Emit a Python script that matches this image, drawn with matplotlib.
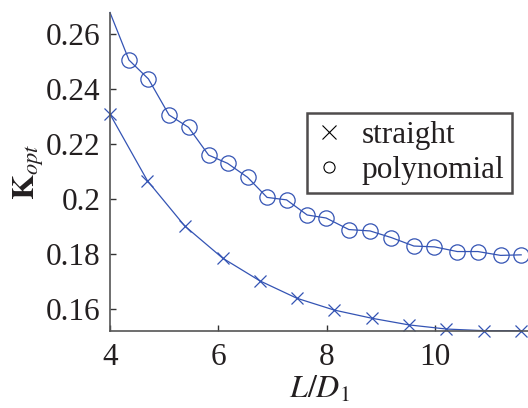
import matplotlib
matplotlib.use("Agg")
import matplotlib.pyplot as plt
from matplotlib.lines import Line2D

plt.rcParams["font.family"] = ["Liberation Serif", "DejaVu Serif"]
plt.rcParams["mathtext.fontset"] = "stix"

# straight profile
straight_x = [4.00, 4.69, 5.38, 6.08, 6.77, 7.45, 8.14, 8.84, 9.52, 10.21, 10.90, 11.59]
straight_y = [0.2310, 0.2068, 0.1903, 0.1786, 0.1703, 0.1640, 0.1597, 0.1567,
              0.1543, 0.1528, 0.1522, 0.1522]

# polynomial profile (first point has no marker)
poly_x = [4.00, 4.35, 4.71, 5.09, 5.45, 5.82, 6.17, 6.54, 6.90, 7.26, 7.64,
          7.99, 8.41, 8.80, 9.19, 9.61, 9.99, 10.41, 10.79, 11.21, 11.59]
poly_y = [0.2680, 0.2507, 0.2438, 0.2307, 0.2262, 0.2161, 0.2131, 0.2080, 0.2007,
          0.1998, 0.1943, 0.1932, 0.1890, 0.1885, 0.1861, 0.1830, 0.1827, 0.1810,
          0.1810, 0.1796, 0.1798]

blue = "#3454b4"
ink = "#231f20"

fig = plt.figure(figsize=(5.28, 4.08), dpi=100)
ax = fig.add_axes([0.2083, 0.1895, 0.7917, 0.7786])

ax.plot(straight_x, straight_y, color=blue, lw=0.9, marker="x", ms=9, mew=0.9,
        clip_on=False)
ax.plot(poly_x, poly_y, color=blue, lw=0.9, marker="o", ms=11, mew=0.9,
        mfc="none", markevery=slice(1, None), clip_on=False)

ax.set_xlim(4, 11.716)
ax.set_ylim(0.1522, 0.2678)
ax.set_xticks([4, 6, 8, 10])
ax.set_yticks([0.16, 0.18, 0.2, 0.22, 0.24, 0.26])
ax.set_yticklabels(["0.16", "0.18", "0.2", "0.22", "0.24", "0.26"])

for side in ["top", "right"]:
    ax.spines[side].set_visible(False)
for side in ["left", "bottom"]:
    ax.spines[side].set_color("#555555")
    ax.spines[side].set_linewidth(1.2)

ax.tick_params(direction="in", length=4, width=1, color="#333333",
               labelsize=22.5, labelcolor=ink)
ax.tick_params(axis="y", pad=7)
ax.tick_params(axis="x", pad=9)

ax.set_xlabel(r"$L/D_1$", fontsize=23, color=ink, labelpad=2)
ax.set_ylabel(r"$\mathbf{K}_{opt}$", fontsize=23, color=ink, labelpad=0)

handles = [
    Line2D([], [], color="black", ls="none", marker="x", ms=10, mew=0.8),
    Line2D([], [], color="black", ls="none", marker="o", ms=8, mew=0.8, mfc="none"),
]
leg = ax.legend(handles, ["straight", "polynomial"], loc="upper left",
                bbox_to_anchor=(0.471, 0.685), fontsize=22.5, frameon=True,
                fancybox=False, borderpad=0.25, handlelength=0.9,
                handletextpad=0.6, labelspacing=0.2, borderaxespad=0)
leg.get_frame().set_edgecolor(ink)
leg.get_frame().set_linewidth(1.8)
for t in leg.get_texts():
    t.set_color(ink)

fig.savefig("out.png", dpi=100)
